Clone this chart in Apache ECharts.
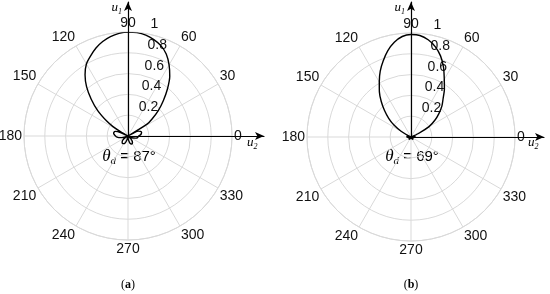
<!DOCTYPE html>
<html>
<head>
<meta charset="utf-8">
<script src="https://cdn.jsdelivr.net/npm/echarts@6/dist/echarts.min.js"></script>
<style>
html, body { margin: 0; padding: 0; background: #fff; }
#chart { width: 550px; height: 294px; }
</style>
</head>
<body>
<div id="chart"></div>
<script>
// pattern (a), theta_d = 87
const anglesA = [0, 5, 10, 15, 20, 25, 28, 30, 32, 35, 40, 45, 50, 55, 60, 65, 70, 75, 80, 85, 90,
  95, 100, 105, 110, 115, 120, 125, 130, 135, 140, 145, 148, 150, 152, 155, 160, 165, 170, 175, 180,
  185, 190, 195, 205, 215, 225, 235, 245, 255, 265, 275, 285, 295, 305, 315, 325, 335, 345, 352, 360];
const radiusA = [0.10, 0.12, 0.13, 0.135, 0.13, 0.11, 0.06, 0.0, 0.22, 0.28, 0.38, 0.48, 0.59, 0.70, 0.79, 0.87, 0.925, 0.96, 0.985, 0.998, 1.0,
  0.99, 0.97, 0.94, 0.90, 0.85, 0.80, 0.72, 0.62, 0.50, 0.38, 0.25, 0.17, 0.08, 0.0, 0.08, 0.13, 0.14, 0.14, 0.13, 0.12,
  0.11, 0.09, 0.06, 0.0, 0.05, 0.08, 0.09, 0.08, 0.04, 0.0, 0.03, 0.07, 0.085, 0.075, 0.04, 0.0, 0.04, 0.08, 0.095, 0.10];

// pattern (b), theta_d = 69
const anglesB = [0, 8, 15, 20, 25, 30, 35, 40, 45, 50, 55, 60, 65, 70, 75, 80, 85, 90, 95, 100,
  105, 110, 115, 120, 125, 130, 135, 140, 145, 150, 155, 158, 165, 175, 185, 195, 215, 230, 245,
  270, 295, 310, 325, 345, 360];
const radiusB = [0.03, 0.04, 0.03, 0.0, 0.08, 0.20, 0.28, 0.35, 0.42, 0.48, 0.56, 0.64, 0.74, 0.83, 0.90, 0.95, 0.98, 0.985, 0.97, 0.925,
  0.86, 0.78, 0.70, 0.61, 0.53, 0.445, 0.36, 0.28, 0.20, 0.11, 0.03, 0.0, 0.03, 0.04, 0.03, 0.0, 0.02, 0.03, 0.02,
  0.0, 0.02, 0.03, 0.02, 0.0, 0.03];

const angleStep = 30;
const radiusStep = 0.2;
const thetaLabels = ['87°', '69°'];
const captions = ['a', 'b'];

const centers = [[128, 136], [411, 137]];
const R = 104;
const gridColor = '#d9d9d9';

const chart = echarts.init(document.getElementById('chart'));

const polar = [];
const angleAxis = [];
const radiusAxis = [];
centers.forEach(c => {
  polar.push({ center: c, radius: R });
});
// helper polars only for radius labels (along ~82 deg like matlab)
centers.forEach(c => {
  polar.push({ center: c, radius: R });
});

for (let i = 0; i < 2; i++) {
  angleAxis.push({
    polarIndex: i, type: 'value', min: 0, max: 360, interval: angleStep,
    startAngle: 0, clockwise: false,
    axisLine: { lineStyle: { color: gridColor, width: 1 } },
    axisTick: { show: false },
    axisLabel: { color: '#111', fontSize: 14, fontFamily: 'Liberation Sans', margin: 2 },
    splitLine: { show: true, lineStyle: { color: gridColor, width: 1 } }
  });
  radiusAxis.push({
    polarIndex: i, type: 'value', min: 0, max: 1, interval: radiusStep,
    axisLine: { show: false }, axisTick: { show: false }, axisLabel: { show: false },
    splitLine: { show: true, lineStyle: { color: gridColor, width: 1 } }
  });
}
for (let i = 2; i < 4; i++) {
  angleAxis.push({
    polarIndex: i, type: 'value', min: 0, max: 360, startAngle: 82, show: false
  });
  radiusAxis.push({
    polarIndex: i, type: 'value', min: 0, max: 1, interval: radiusStep,
    axisLine: { show: false }, axisTick: { show: false }, splitLine: { show: false },
    axisLabel: {
      showMinLabel: false, margin: -8, align: 'left', verticalAlign: 'bottom', lineHeight: 19,
      color: '#111', fontSize: 14, fontFamily: 'Liberation Sans'
    }
  });
}

const grid = centers.map((c, i) => ({
  left: c[0], top: 2, width: (i === 0 ? 136 : 133), height: c[1] - 2, outerBoundsMode: 'none'
}));
const arrowLine = {
  show: true, onZero: false, symbol: ['none', 'arrow'], symbolSize: [6, 9],
  lineStyle: { color: '#000', width: 1.2 }
};
const xAxis = centers.map((c, i) => ({
  gridIndex: i, type: 'value', min: 0, max: 1, axisLine: arrowLine,
  axisTick: { show: false }, axisLabel: { show: false }, splitLine: { show: false }
}));
const yAxis = centers.map((c, i) => ({
  gridIndex: i, type: 'value', min: 0, max: 1, axisLine: arrowLine,
  axisTick: { show: false }, axisLabel: { show: false }, splitLine: { show: false }
}));

const curve = (angles, radius, idx) => ({
  type: 'line', coordinateSystem: 'polar', polarIndex: idx,
  data: radius.map((r, k) => [r, angles[k]]),
  showSymbol: false, smooth: 0.25, z: 5,
  lineStyle: { color: '#000', width: 1.4 }
});

const ital = { fontFamily: 'Liberation Serif', fontStyle: 'italic', fontSize: 13, color: '#111' };
const sub = { fontFamily: 'Liberation Serif', fontStyle: 'italic', fontSize: 8, color: '#111', padding: [7, 0, 0, 0] };

const graphic = [];
centers.forEach((c, i) => {
  graphic.push({
    type: 'text', x: c[0] - 6, y: 8,
    style: { text: '{i|u}{s|1}', rich: { i: ital, s: sub }, align: 'right', verticalAlign: 'middle' }
  });
  graphic.push({
    type: 'text', x: c[0] + (i === 0 ? 119 : 117), y: 143,
    style: { text: '{i|u}{s|2}', rich: { i: ital, s: sub }, align: 'left', verticalAlign: 'middle' }
  });
  graphic.push({
    type: 'text', x: c[0] + 1, y: 157,
    style: {
      text: '{t|θ}{d|d}{n| = ' + thetaLabels[i] + '}',
      rich: {
        t: { fontFamily: 'Liberation Serif', fontStyle: 'italic', fontSize: 17, color: '#111' },
        d: { fontFamily: 'Liberation Serif', fontStyle: 'italic', fontSize: 11, color: '#111', padding: [8, 0, 0, 0] },
        n: { fontFamily: 'Liberation Sans', fontSize: 15, color: '#111' }
      },
      align: 'center', verticalAlign: 'middle'
    }
  });
  graphic.push({
    type: 'text', x: c[0], y: 285,
    style: {
      text: '{p|(}{b|' + captions[i] + '}{p|)}',
      rich: {
        p: { fontFamily: 'Liberation Serif', fontSize: 12, color: '#222' },
        b: { fontFamily: 'Liberation Serif', fontSize: 12, fontWeight: 'bold', color: '#222' }
      },
      align: 'center', verticalAlign: 'middle'
    }
  });
});

chart.setOption({
  animation: false,
  polar, angleAxis, radiusAxis,
  grid, xAxis, yAxis,
  series: [curve(anglesA, radiusA, 0), curve(anglesB, radiusB, 1)],
  graphic
});
</script>
</body>
</html>
